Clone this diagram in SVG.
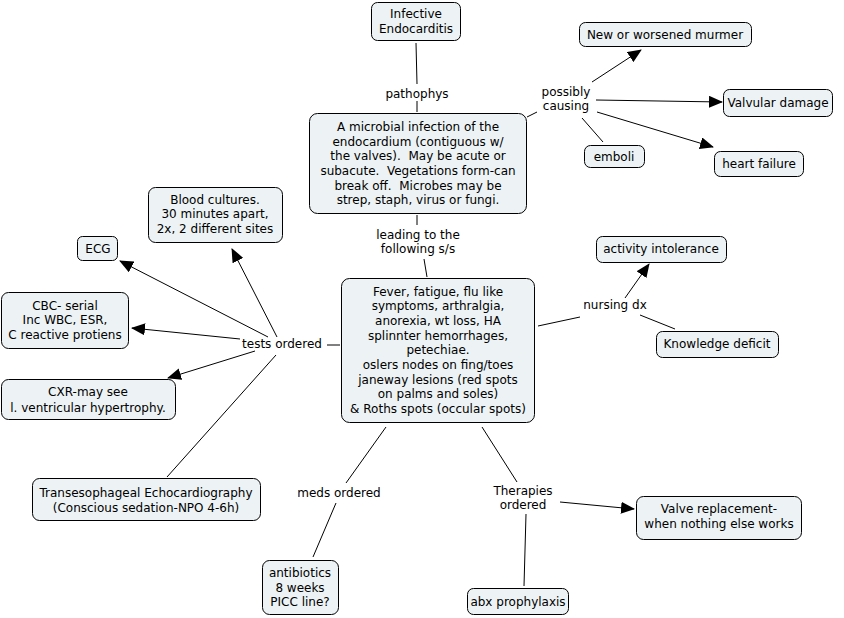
<svg xmlns="http://www.w3.org/2000/svg" width="844" height="618" viewBox="0 0 844 618">
<defs>
<marker id="ah" markerUnits="userSpaceOnUse" markerWidth="14" markerHeight="12" refX="13" refY="6" orient="auto">
<path d="M0,0 L14,6 L0,12 z" fill="#000"/>
</marker>
<style>
.n rect{fill:#edf3f5;stroke:#000;stroke-width:1}
text{font-family:"DejaVu Sans",Verdana,sans-serif;font-size:12px;fill:#000;text-anchor:middle;white-space:pre}
.c line{stroke:#000;stroke-width:1;fill:none}
.c .a{marker-end:url(#ah)}
</style>
</defs>
<rect width="844" height="618" fill="#fff"/>
<g class="c">
<line x1="416" y1="43" x2="417" y2="84"/>
<line x1="417" y1="101" x2="417" y2="112"/>
<line x1="417" y1="215" x2="417" y2="225"/>
<line x1="424" y1="259" x2="427" y2="277"/>
<line x1="527" y1="117" x2="537" y2="112"/>
<line class="a" x1="592" y1="82" x2="641" y2="50"/>
<line class="a" x1="596" y1="100" x2="722" y2="102"/>
<line x1="582" y1="118" x2="603" y2="142"/>
<line class="a" x1="597" y1="112" x2="713" y2="147"/>
<line x1="327" y1="345" x2="340" y2="345"/>
<line class="a" x1="268" y1="337" x2="120" y2="261"/>
<line class="a" x1="277" y1="337" x2="232" y2="249"/>
<line class="a" x1="240" y1="339" x2="132" y2="328"/>
<line class="a" x1="255" y1="351" x2="168" y2="378"/>
<line x1="276" y1="355" x2="167" y2="477"/>
<line x1="538" y1="326" x2="580" y2="317"/>
<line class="a" x1="625" y1="298" x2="649" y2="264"/>
<line x1="640" y1="315" x2="675" y2="329"/>
<line x1="386" y1="427" x2="346" y2="483"/>
<line x1="336" y1="503" x2="313" y2="557"/>
<line x1="482" y1="427" x2="517" y2="482"/>
<line class="a" x1="560" y1="502" x2="634" y2="509"/>
<line x1="526" y1="514" x2="524" y2="586"/>
</g>
<g id="lbl-pathophys"><text x="417" y="98">pathophys</text></g>
<g id="lbl-leading"><text x="418" y="239">leading to the</text><text x="418" y="253">following s/s</text></g>
<g id="lbl-possibly"><text x="566" y="96">possibly</text><text x="566" y="110">causing</text></g>
<g id="lbl-tests"><text x="282" y="348">tests ordered</text></g>
<g id="lbl-nursing"><text x="615" y="309">nursing dx</text></g>
<g id="lbl-meds"><text x="339" y="497">meds ordered</text></g>
<g id="lbl-therapies"><text x="523" y="495">Therapies</text><text x="523" y="509">ordered</text></g>

<g id="n-ie" class="n"><rect x="371.5" y="2.5" width="89" height="38" rx="6"/><text x="416" y="18">Infective</text><text x="416" y="33">Endocarditis</text></g>
<g id="n-patho" class="n"><rect x="309.5" y="113.5" width="217" height="100" rx="8"/>
<text x="418" y="131">A microbial infection of the</text>
<text x="418" y="146">endocardium (contiguous w/</text>
<text x="418" y="160">the valves).  May be acute or</text>
<text x="418" y="175">subacute.  Vegetations form-can</text>
<text x="418" y="190">break off.  Microbes may be</text>
<text x="418" y="204">strep, staph, virus or fungi.</text>
</g>
<g id="n-murmer" class="n"><rect x="579.5" y="22.5" width="172" height="24" rx="6"/><text x="665" y="39">New or worsened murmer</text></g>
<g id="n-valvular" class="n"><rect x="723.5" y="89.5" width="109" height="27" rx="6"/><text x="778" y="107">Valvular damage</text></g>
<g id="n-emboli" class="n"><rect x="584.5" y="145.5" width="60" height="22" rx="6"/><text x="614" y="161">emboli</text></g>
<g id="n-hf" class="n"><rect x="714.5" y="151.5" width="89" height="25" rx="6"/><text x="759" y="168">heart failure</text></g>
<g id="n-blood" class="n"><rect x="148.5" y="187.5" width="134" height="55" rx="7"/>
<text x="215" y="204">Blood cultures.</text><text x="215" y="218">30 minutes apart,</text><text x="215" y="233">2x, 2 different sites</text></g>
<g id="n-ecg" class="n"><rect x="77.5" y="236.5" width="40" height="24" rx="5"/><text x="98" y="253">ECG</text></g>
<g id="n-cbc" class="n"><rect x="1.5" y="292.5" width="127" height="56" rx="7"/>
<text x="65" y="310">CBC- serial</text><text x="65" y="324">Inc WBC, ESR,</text><text x="65" y="339">C reactive protiens</text></g>
<g id="n-cxr" class="n"><rect x="1.5" y="379.5" width="174" height="40" rx="7"/>
<text x="88" y="396">CXR-may see</text><text x="88" y="412">l. ventricular hypertrophy.</text></g>
<g id="n-tee" class="n"><rect x="32.5" y="478.5" width="228" height="42" rx="7"/>
<text x="146" y="497">Transesophageal Echocardiography</text><text x="146" y="512">(Conscious sedation-NPO 4-6h)</text></g>
<g id="n-symptoms" class="n"><rect x="341.5" y="278.5" width="193" height="144" rx="8"/>
<text x="438" y="296">Fever, fatigue, flu like</text>
<text x="438" y="310">symptoms, arthralgia,</text>
<text x="438" y="325">anorexia, wt loss, HA</text>
<text x="438" y="340">splinnter hemorrhages,</text>
<text x="438" y="354">petechiae.</text>
<text x="438" y="369">oslers nodes on fing/toes</text>
<text x="438" y="384">janeway lesions (red spots</text>
<text x="438" y="398">on palms and soles)</text>
<text x="438" y="413">&amp; Roths spots (occular spots)</text>
</g>
<g id="n-activity" class="n"><rect x="596.5" y="236.5" width="130" height="26" rx="6"/><text x="661" y="253">activity intolerance</text></g>
<g id="n-knowledge" class="n"><rect x="656.5" y="331.5" width="122" height="26" rx="6"/><text x="717" y="348">Knowledge deficit</text></g>
<g id="n-antibiotics" class="n"><rect x="262.5" y="560.5" width="76" height="54" rx="7"/>
<text x="300" y="577">antibiotics</text><text x="300" y="592">8 weeks</text><text x="300" y="606">PICC line?</text></g>
<g id="n-valve" class="n"><rect x="636.5" y="496.5" width="165" height="43" rx="7"/>
<text x="719" y="513">Valve replacement-</text><text x="719" y="528">when nothing else works</text></g>
<g id="n-abx" class="n"><rect x="467.5" y="588.5" width="101" height="26" rx="6"/><text x="518" y="606">abx prophylaxis</text></g>
</svg>
